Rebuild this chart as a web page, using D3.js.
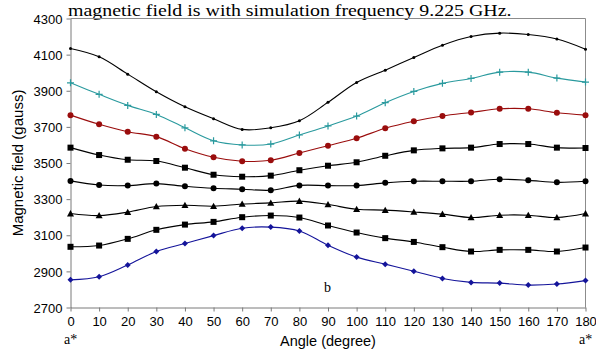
<!DOCTYPE html>
<html>
<head>
<meta charset="utf-8" />
<title>Magnetic field vs angle</title>
<script src="https://cdnjs.cloudflare.com/ajax/libs/d3/7.8.5/d3.min.js"></script>
<style>
  body { margin: 0; background: #fff; }
  svg { display: block; }
</style>
</head>
<body>
<svg id="chart" width="596" height="351"></svg>
<script>
  const angles = [0, 10, 20, 30, 40, 50, 60, 70, 80, 90, 100, 110, 120, 130, 140, 150, 160, 170, 180]
  const yTicks = [2700, 2900, 3100, 3300, 3500, 3700, 3900, 4100, 4300]

  const line1 = [4134, 4088, 3992, 3894, 3811, 3745, 3686, 3695, 3734, 3836, 3946, 4014, 4084, 4152, 4200, 4219, 4211, 4186, 4130]
  const line2 = [3944, 3880, 3819, 3769, 3695, 3623, 3600, 3605, 3655, 3705, 3760, 3834, 3896, 3941, 3968, 4003, 4003, 3970, 3948]
  const line3 = [3765, 3714, 3673, 3646, 3579, 3532, 3510, 3515, 3555, 3596, 3637, 3692, 3731, 3760, 3780, 3800, 3800, 3778, 3765]
  const line4 = [3585, 3544, 3518, 3511, 3474, 3435, 3424, 3430, 3460, 3485, 3504, 3540, 3570, 3581, 3585, 3605, 3605, 3585, 3583]
  const line5 = [3401, 3378, 3375, 3386, 3371, 3360, 3355, 3349, 3376, 3375, 3375, 3390, 3399, 3399, 3399, 3410, 3404, 3393, 3399]
  const line6 = [3220, 3209, 3228, 3259, 3266, 3261, 3273, 3279, 3289, 3270, 3244, 3239, 3229, 3217, 3198, 3211, 3211, 3198, 3220]
  const line7 = [3036, 3043, 3080, 3130, 3159, 3174, 3200, 3209, 3198, 3154, 3115, 3084, 3063, 3034, 3010, 3019, 3019, 3010, 3032]
  const line8 = [2853, 2870, 2935, 3010, 3054, 3098, 3139, 3145, 3124, 3045, 2979, 2940, 2901, 2861, 2839, 2835, 2824, 2830, 2849]

  const series = [
    { values: line1, color: '#000000', marker: 'dot' },
    { values: line2, color: '#2a9a9e', marker: 'plus' },
    { values: line3, color: '#9a0d0d', marker: 'circle' },
    { values: line4, color: '#000000', marker: 'square' },
    { values: line5, color: '#000000', marker: 'circle' },
    { values: line6, color: '#000000', marker: 'triangle' },
    { values: line7, color: '#000000', marker: 'square' },
    { values: line8, color: '#14149a', marker: 'diamond' }
  ]

  const svg = d3.select('#chart')
  const plotL = 70.5, plotR = 585.5, plotT = 18.5, plotB = 307.5
  const sans = "'Liberation Sans', Arial, sans-serif"
  const serif = "'Liberation Serif', 'Times New Roman', serif"

  const x = d3.scaleLinear().domain([0, 180]).range([plotL, plotR])
  const y = d3.scaleLinear().domain([2700, 4300]).range([plotB, plotT])

  // title line above the plot, widened to the reference's span
  svg.append('text')
    .attr('transform', 'translate(68,15.5) scale(1.17,1)')
    .attr('font-family', serif)
    .attr('font-size', 17)
    .text('magnetic field is with simulation frequency 9.225 GHz.')

  // plot frame (top and right)
  svg.append('path')
    .attr('d', `M${plotL},${plotT}H${plotR}V${plotB}`)
    .attr('fill', 'none').attr('stroke', '#8c8c8c').attr('stroke-width', 1)

  const xAxis = d3.axisBottom(x).tickValues(angles).tickSize(4).tickSizeOuter(0).tickPadding(5)
  const gx = svg.append('g').attr('transform', `translate(0,${plotB})`).call(xAxis)
  const yAxis = d3.axisLeft(y).tickValues(yTicks).tickFormat(d3.format('d')).tickSize(4).tickSizeOuter(0).tickPadding(4)
  const gy = svg.append('g').attr('transform', `translate(${plotL},0)`).call(yAxis)

  for (const g of [gx, gy]) {
    g.select('.domain').attr('stroke', '#7a7a7a')
    g.selectAll('.tick line').attr('stroke', '#7a7a7a')
    g.selectAll('.tick text')
      .attr('font-family', sans)
      .attr('font-size', 13).attr('fill', '#000')
  }
  gy.selectAll('.tick text').attr('dy', '0.36em')

  const lineGen = d3.line()
    .x((d, i) => x(angles[i]))
    .y(d => y(d))
    .curve(d3.curveCatmullRom.alpha(0.5))

  series.forEach(s => {
    svg.append('path')
      .attr('d', lineGen(s.values))
      .attr('fill', 'none')
      .attr('stroke', s.color)
      .attr('stroke-width', 1.1)

    const g = svg.append('g')
    s.values.forEach((v, i) => {
      const cx = x(angles[i]), cy = y(v)
      if (s.marker === 'dot') {
        g.append('circle').attr('cx', cx).attr('cy', cy).attr('r', 1.5).attr('fill', s.color)
      } else if (s.marker === 'circle') {
        g.append('circle').attr('cx', cx).attr('cy', cy).attr('r', 3).attr('fill', s.color)
      } else if (s.marker === 'plus') {
        g.append('path').attr('d', `M${cx - 3.5},${cy}H${cx + 3.5}M${cx},${cy - 3.5}V${cy + 3.5}`)
          .attr('stroke', s.color).attr('stroke-width', 1.2)
      } else if (s.marker === 'square') {
        g.append('rect').attr('x', cx - 3).attr('y', cy - 3).attr('width', 6).attr('height', 6).attr('fill', s.color)
      } else if (s.marker === 'triangle') {
        g.append('path').attr('d', `M${cx},${cy - 3.5}L${cx + 3.5},${cy + 2.8}L${cx - 3.5},${cy + 2.8}Z`).attr('fill', s.color)
      } else if (s.marker === 'diamond') {
        g.append('path').attr('d', `M${cx},${cy - 3}L${cx + 3},${cy}L${cx},${cy + 3}L${cx - 3},${cy}Z`).attr('fill', s.color)
      }
    })
  })

  // axis titles
  svg.append('text')
    .attr('transform', `translate(23,${(plotT + plotB) / 2}) rotate(-90)`)
    .attr('text-anchor', 'middle')
    .attr('font-family', sans)
    .attr('font-size', 15)
    .text('Magnetic field (gauss)')

  svg.append('text')
    .attr('x', 328).attr('y', 346)
    .attr('text-anchor', 'middle')
    .attr('font-family', sans)
    .attr('font-size', 14.5)
    .text('Angle (degree)')

  // annotations
  svg.append('text').attr('x', 64).attr('y', 344).attr('font-family', serif).attr('font-size', 14).text('a*')
  svg.append('text').attr('x', 579).attr('y', 344).attr('font-family', serif).attr('font-size', 14).text('a*')
  svg.append('text').attr('x', 324).attr('y', 292).attr('font-family', serif).attr('font-size', 14).text('b')
</script>
</body>
</html>
